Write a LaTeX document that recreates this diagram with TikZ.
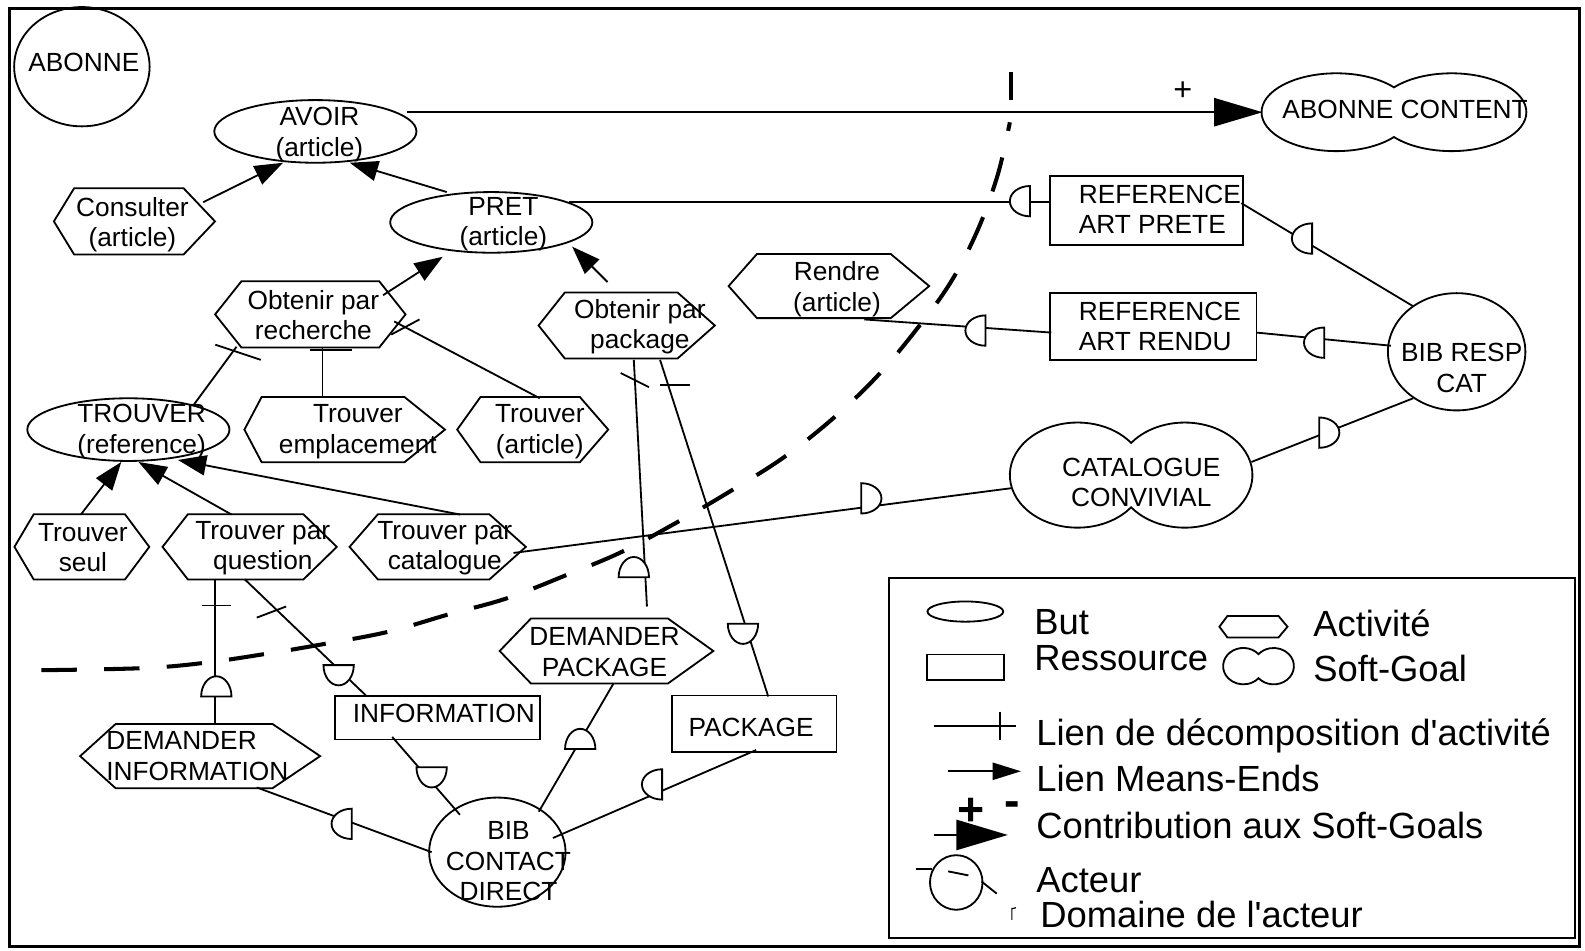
\documentclass[tikz,border=0pt]{standalone}
\usepackage{fontspec}
\setmainfont{Liberation Sans}
\newfontfamily\plainfont{Liberation Sans}
\usetikzlibrary{shapes.geometric,arrows.meta}

% activity: hexagon with pointed left/right ends (name, x, y, width, height, left depth, right depth)
\newcommand{\ActNode}[7]{%
  \node[actbox,minimum width=#4pt,minimum height=#5pt] (#1) at (#2,#3) {};
  \draw[shapeline] (#1.west) -- ([xshift=#6pt]#1.north west) -- ([xshift=-#7pt]#1.north east)
    -- (#1.east) -- ([xshift=-#7pt]#1.south east) -- ([xshift=#6pt]#1.south west) -- cycle;}

% soft goal: two overlapping lobes (name, x, y, width, height, lobe x radius, lobe offset, lobe y radius)
\newcommand{\SoftGoal}[8]{%
  \node[sgbox,minimum width=#4pt,minimum height=#5pt] (#1) at (#2,#3) {};
  \pgfmathsetmacro\sgAng{acos(#7/#6)}%
  \pgfmathsetmacro\sgRise{#8*sin(\sgAng)}%
  \draw[shapeline] (#2,{#3-\sgRise})
    arc[start angle=\sgAng, end angle={360-\sgAng}, x radius=#6pt, y radius=#8pt]
    arc[start angle={180+\sgAng}, end angle={540-\sgAng}, x radius=#6pt, y radius=#8pt] -- cycle;}

\tikzset{
  shapeline/.style={line width=1.8pt},
  goal/.style={ellipse, draw, line width=1.8pt, inner sep=0pt},
  actor/.style={ellipse, draw, line width=1.8pt, inner sep=0pt},
  resource/.style={rectangle, draw, line width=1.8pt, inner sep=0pt},
  actbox/.style={rectangle, inner sep=0pt},
  sgbox/.style={ellipse, inner sep=0pt},
  lbl/.style={font=\fontsize{26}{30}\selectfont, align=center, inner sep=0pt},
  leg/.style={font=\plainfont\fontsize{36}{38}\selectfont, anchor=base west, inner sep=0pt},
  link/.style={line width=1.8pt},
  meansend/.style={link, -{Triangle[length=28pt,width=20pt]}},
  contrib/.style={link, -{Triangle[length=48pt,width=28pt]}},
  tickmark/.style={line width=1.8pt},
  boundary/.style={line width=4pt, dash pattern=on 35pt off 27pt},
  dep/.pic={\draw[shapeline, fill=white] (0pt,-15pt)
      arc[start angle=-90, end angle=90, x radius=20pt, y radius=15pt] -- cycle;},
}

\begin{document}
\begin{tikzpicture}[x=1pt,y=-1pt]
\useasboundingbox (0,0) rectangle (1568,940);
\draw[line width=3pt] (9,8) rectangle (1563,936);

% ---------- actors ----------
\node[actor, minimum width=134pt, minimum height=118pt] (abonne) at (81,66) {};
\node[actor, minimum width=136pt, minimum height=116pt] (bibresp) at (1441,348) {};
\node[actor, minimum width=135pt, minimum height=108pt] (bibcontact) at (492,843) {};

% ---------- goals ----------
\node[goal, minimum width=200pt, minimum height=62pt] (avoir) at (312,130) {};
\node[goal, minimum width=200pt, minimum height=60pt] (pret) at (486,220) {};
\node[goal, minimum width=200pt, minimum height=62pt] (trouver) at (127,425) {};

% ---------- activities ----------
\ActNode{cons}{133}{219}{159}{65}{20}{31}
\ActNode{obrech}{307}{311}{188}{65}{26}{26}
\ActNode{obpack}{620}{322}{174}{65}{26}{37}
\ActNode{rendre}{820}{283}{198}{63}{28}{38}
\ActNode{trempl}{341}{425}{198}{64}{17}{40}
\ActNode{trart}{527}{425}{149}{64}{23}{28}
\ActNode{trseul}{81}{541}{133}{64}{19}{24}
\ActNode{trquest}{247}{541}{172}{64}{25}{33}
\ActNode{trcat}{433}{541}{174}{64}{28}{36}
\ActNode{deminfo}{198}{748}{237}{63}{35}{47}
\ActNode{dempack}{600}{644}{211}{64}{31}{45}

% ---------- resources ----------
\node[resource, minimum width=191pt, minimum height=68pt] (refprete) at (1134,208) {};
\node[resource, minimum width=204pt, minimum height=66pt] (refrendu) at (1141,323) {};
\node[resource, minimum width=203pt, minimum height=43pt] (info) at (433,710) {};
\node[resource, minimum width=163pt, minimum height=56pt] (package) at (746,716) {};

% ---------- soft goals ----------
\SoftGoal{abcontent}{1379}{111}{262}{77}{74}{57}{38.5}
\SoftGoal{catalogue}{1119}{470}{240}{104}{67}{53}{52}

% ---------- labels ----------
\node[lbl] (abonneT) at (83,62) {ABONNE};
\node[lbl] (avoirT) at (316,133) {AVOIR\\(article)};
\node[lbl] (consT) at (131,222) {Consulter\\(article)};
\node[lbl] (pretT) at (498,222) {PRET\\(article)};
\node[lbl] (obrechT) at (310,312) {Obtenir par\\recherche};
\node[lbl] (obpackT) at (633,323) {Obtenir par\\package};
\node[lbl] (rendreT) at (828,286) {Rendre\\(article)};
\node[lbl, anchor=west, align=left] (refpreteT) at (1067,207) {REFERENCE\\ART PRETE};
\node[lbl, anchor=west, align=left] (refrenduT) at (1067,323) {REFERENCE\\ART RENDU};
\node[lbl] (abcontentT) at (1390,108) {ABONNE CONTENT};
\node[lbl] (bibrespT) at (1446,364) {BIB RESP\\CAT};
\node[lbl] (catalogueT) at (1129,477) {CATALOGUE\\CONVIVIAL};
\node[lbl] (trouverT) at (140,427) {TROUVER\\(reference)};
\node[lbl] (tremplT) at (354,427) {Trouver\\emplacement};
\node[lbl] (trartT) at (534,427) {Trouver\\(article)};
\node[lbl] (trseulT) at (82,542) {Trouver\\seul};
\node[lbl] (trquestT) at (260,542) {Trouver par\\question};
\node[lbl] (trcatT) at (440,542) {Trouver par\\catalogue};
\node[lbl, anchor=west, align=left] (deminfoT) at (105,748) {DEMANDER\\INFORMATION};
\node[lbl] (dempackT) at (598,645) {DEMANDER\\PACKAGE};
\node[lbl] (infoT) at (439,706) {INFORMATION};
\node[lbl] (packageT) at (743,720) {PACKAGE};
\node[lbl] (bibcontactT) at (503,852) {BIB\\CONTACT\\DIRECT};
\node[inner sep=0pt, font=\fontsize{32}{32}\selectfont] (plusT) at (1170,90) {+};

% ---------- actor boundary of ABONNE ----------
\draw[boundary] plot[smooth, tension=0.6] coordinates {
  (41,663) (140,661) (200,656) (262,647) (321,637) (384,625) (443,608) (501,592)
  (560,569) (615,546) (671,516) (724,485) (776,452) (824,414) (867,373) (905,328)
  (940,280) (967,228) (987,173) (999,121)};
\draw[line width=4pt] (1000,71) -- (1000,99);

% ---------- means-ends links ----------
\draw[meansend] ([shift={(68,-19)}]cons.center) -- ([shift={(-32,31)}]avoir.center);
\draw[meansend] ([shift={(-44,-30)}]pret.center) -- ([shift={(34,31)}]avoir.center);
\draw[meansend] ([shift={(72,-19)}]obrech.center) -- ([shift={(-48,34)}]pret.center);
\draw[meansend] ([shift={(-19,-43)}]obpack.center) -- ([shift={(80,24)}]pret.center);
\draw[meansend] ([shift={(-1,-32)}]trseul.center) -- ([shift={(-7,32)}]trouver.center);
\draw[meansend] ([shift={(-18,-32)}]trquest.center) -- ([shift={(10,32)}]trouver.center);
\draw[meansend] ([shift={(22,-32)}]trcat.center) -- ([shift={(49,30)}]trouver.center);

% ---------- contribution ----------
\draw[contrib] ([shift={(91,-19)}]avoir.center) -- ([shift={(-130,0)}]abcontent.center);

% ---------- decomposition links ----------
\draw[link] ([shift={(-73,32)}]obrech.center) -- ([shift={(65,-25)}]trouver.center);
\draw[tickmark] ([shift={(-94,30)}]obrech.center) -- ([shift={(-49,45)}]obrech.center);
\draw[link] ([shift={(12,32)}]obrech.center) -- ([shift={(-22,-32)}]trempl.center);
\draw[tickmark] ([shift={(0,35)}]obrech.center) -- ([shift={(41,35)}]obrech.center);
\draw[link] ([shift={(83,7)}]obrech.center) -- ([shift={(7,-31)}]trart.center);
\draw[tickmark] ([shift={(80,20)}]obrech.center) -- ([shift={(108,5)}]obrech.center);
\draw[link] ([shift={(7,34)}]obpack.center) -- ([shift={(40,-44)}]dempack.center);
\draw[tickmark] ([shift={(-6,47)}]obpack.center) -- ([shift={(22,61)}]obpack.center);
\draw[link] ([shift={(33,34)}]obpack.center) -- ([shift={(14,-27)}]package.center);
\draw[tickmark] ([shift={(33,59)}]obpack.center) -- ([shift={(63,59)}]obpack.center);
\draw[link] ([shift={(-34,32)}]trquest.center) -- ([shift={(15,-32)}]deminfo.center);
\draw[tickmark] ([shift={(-47,58)}]trquest.center) -- ([shift={(-18,58)}]trquest.center);
\draw[link] ([shift={(-5,32)}]trquest.center) -- ([shift={(-71,-22)}]info.center);
\draw[tickmark] ([shift={(7,70)}]trquest.center) -- ([shift={(36,59)}]trquest.center);

% ---------- dependency links ----------
\draw[link] ([shift={(77,-20)}]pret.center) -- ([shift={(-95,-8)}]refprete.center);
\draw[link] ([shift={(94,-7)}]refprete.center) -- ([shift={(-43,-45)}]bibresp.center);
\draw[link] ([shift={(35,33)}]rendre.center) -- ([shift={(-101,6)}]refrendu.center);
\draw[link] ([shift={(102,6)}]refrendu.center) -- ([shift={(-65,-6)}]bibresp.center);
\draw[link] ([shift={(-43,46)}]bibresp.center) -- ([shift={(119,-13)}]catalogue.center);
\draw[link] ([shift={(-119,13)}]catalogue.center) -- ([shift={(75,6)}]trcat.center);
\draw[link] ([shift={(7,32)}]dempack.center) -- ([shift={(41,-40)}]bibcontact.center);
\draw[link] ([shift={(-45,19)}]info.center) -- ([shift={(-37,-37)}]bibcontact.center);
\draw[link] ([shift={(56,31)}]deminfo.center) -- ([shift={(-65,0)}]bibcontact.center);
\draw[link] ([shift={(2,26)}]package.center) -- ([shift={(55,-14)}]bibcontact.center);

% dependency marks
\pic[rotate=180] at (1019,199) {dep};
\pic[rotate=180] at (1298,236) {dep};
\pic[rotate=180] at (975,327) {dep};
\pic[rotate=180] at (1310,339) {dep};
\pic at (1305,428) {dep};
\pic at (852,493) {dep};
\pic[rotate=90] at (574,741) {dep};
\pic[rotate=-90] at (427,759) {dep};
\pic[rotate=180] at (348,815) {dep};
\pic[rotate=180] at (655,776) {dep};
\pic[rotate=90] at (214,689) {dep};
\pic[rotate=-90] at (335,658) {dep};
\pic[rotate=90] at (627,571) {dep};
\pic[rotate=-90] at (735,617) {dep};

% ---------- legend ----------
\draw[line width=2pt] (879,572) rectangle (1558,928);
\node[goal, minimum width=75pt, minimum height=20pt] (legBut) at (955,605) {};
\ActNode{legAct}{1240}{620}{67}{21}{8}{9}
\node[resource, minimum width=76pt, minimum height=25pt] (legRes) at (955,660) {};
\SoftGoal{legSG}{1245}{659}{71}{36}{20}{15}{18}
\coordinate (legDa) at (924,718); \coordinate (legDb) at (1005,718);
\draw[link] (legDa) -- (legDb);
\draw[tickmark] (989,704) -- (989,732);
\coordinate (legMa) at (938,763); \coordinate (legMb) at (1010,763);
\draw[link, -{Triangle[length=28pt,width=17pt]}] (legMa) -- (legMb);
\coordinate (legCa) at (924,826); \coordinate (legCb) at (997,826);
\draw[link, -{Triangle[length=51pt,width=30pt]}] (legCa) -- (legCb);
\node[inner sep=0pt, font=\fontsize{46}{46}\selectfont\bfseries] (legPlus) at (961,803) {+};
\node[inner sep=0pt, font=\fontsize{46}{46}\selectfont\bfseries] (legMinus) at (1001,800) {-};
\node[actor, minimum width=52pt, minimum height=54pt] (legActor) at (946,873) {};
\draw[link] (906,860) -- (922,860);
\draw[link] (938,862) -- (958,866);
\draw[link] (971,872) -- (986,884);
\draw[line width=1.2pt] (1001,898) -- (1001,910) (1001,899) -- (1005,898);

\node[leg] (legButT) at (1023,628) {But};
\node[leg] (legActT) at (1299,630) {Activité};
\node[leg] (legResT) at (1023,663) {Ressource};
\node[leg] (legSGT) at (1299,674) {Soft-Goal};
\node[leg] (legDecT) at (1025,737) {Lien de décomposition d'activité};
\node[leg] (legMET) at (1025,783) {Lien Means-Ends};
\node[leg] (legConT) at (1025,829) {Contribution aux Soft-Goals};
\node[leg] (legActeurT) at (1025,883) {Acteur};
\node[leg] (legDomT) at (1029,918) {Domaine de l'acteur};
\end{tikzpicture}
\end{document}
